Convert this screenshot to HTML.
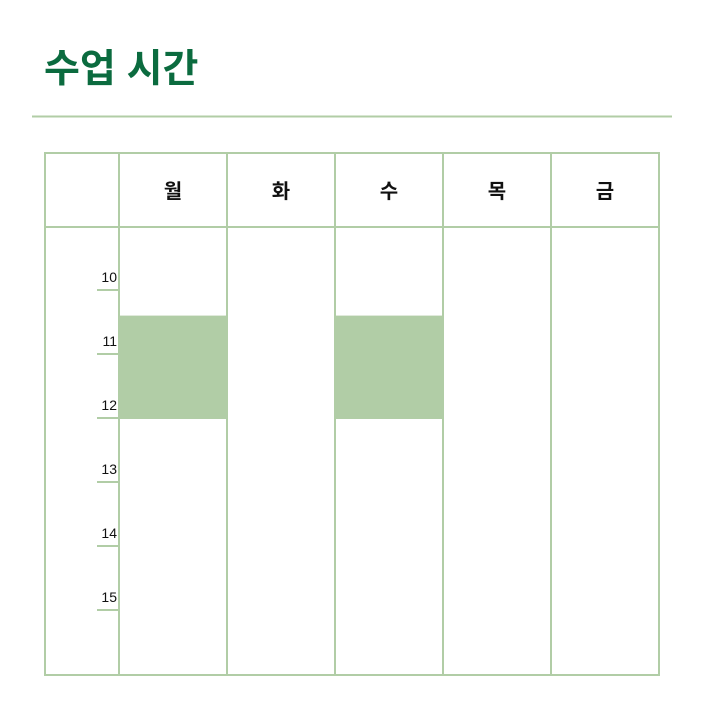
<!DOCTYPE html>
<html><head><meta charset="utf-8"><style>
html,body{margin:0;padding:0;background:#fff;width:704px;height:712px;overflow:hidden}
svg{display:block}
</style></head><body>
<svg id="chart" width="704" height="712">
<text x="44" y="82" font-family="'Liberation Sans','Noto Sans CJK KR',sans-serif" font-size="39" font-weight="bold" fill="#0b6b3f">수업 시간</text>
<line x1="32" y1="116.5" x2="672" y2="116.5" stroke="#b1cda6" stroke-width="2"/>
<g id="grp"></g>
</svg>
<script>
const days = ['월','화','수','목','금'];
const hours = [10,11,12,13,14,15];
const blockDays = [0,2];
const blockStarts = [10.4,10.4];
const blockEnds = [12,12];

const NS='http://www.w3.org/2000/svg';
const grp=document.getElementById('grp');
const leftX=45, rightX=659, topY=153, headerBottom=227, bottomY=675, labelCol=119, colW=108;
const yOf=h=>290+(h-10)*64;
const xOf=d=>labelCol+d*colW;
const C='#b1cda6';
function mk(tag,attrs){const e=document.createElementNS(NS,tag);for(const k in attrs)e.setAttribute(k,attrs[k]);grp.appendChild(e);return e;}
blockDays.forEach((d,i)=>{
  const r=mk('rect',{x:xOf(d),y:yOf(blockStarts[i]),width:colW,height:yOf(blockEnds[i])-yOf(blockStarts[i])+1,fill:'#b1cda6'});
  
  
});
hours.forEach(h=>{
  const l=mk('line',{x1:97,x2:119,y1:yOf(h),y2:yOf(h),stroke:C,'stroke-width':2});
  
  
  const t=mk('text',{x:117,y:yOf(h)-8,'text-anchor':'end','font-family':"'Liberation Sans',sans-serif",'font-size':14,fill:'#111'});
  t.textContent=h;
  
  
});
const outer=mk('rect',{x:leftX,y:topY,width:rightX-leftX,height:bottomY-topY,fill:'none',stroke:C,'stroke-width':2});


const hb=mk('line',{x1:leftX,x2:rightX,y1:headerBottom,y2:headerBottom,stroke:C,'stroke-width':2});


for(let d=0;d<days.length;d++){
  const l=mk('line',{x1:xOf(d),x2:xOf(d),y1:topY,y2:bottomY,stroke:C,'stroke-width':2});
  
  
  const t=mk('text',{x:xOf(d)+colW/2,y:198,'text-anchor':'middle','font-family':"'Liberation Sans','Noto Sans CJK KR',sans-serif",'font-size':20,'font-weight':'bold',fill:'#111'});
  t.textContent=days[d];
  
  
}
</script>
</body></html>
